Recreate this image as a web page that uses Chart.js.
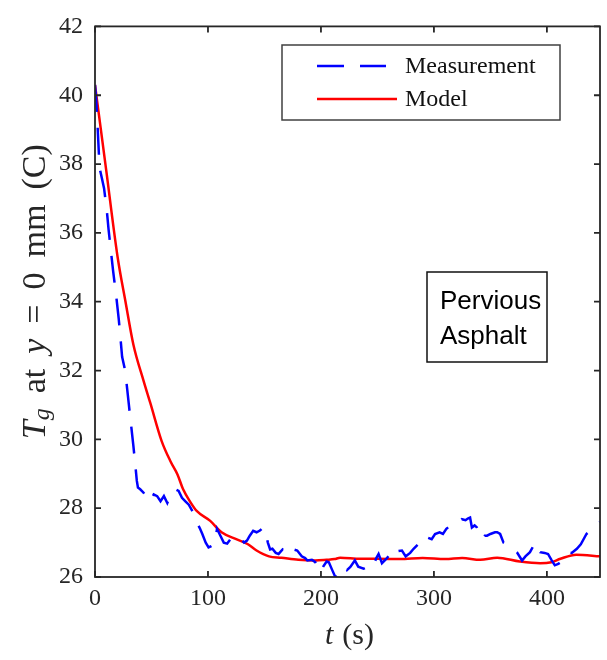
<!DOCTYPE html>
<html>
<head>
<meta charset="utf-8">
<script src="https://cdn.jsdelivr.net/npm/chart.js@4.4.1/dist/chart.umd.min.js"></script>
<style>
  html, body { margin: 0; padding: 0; background: #ffffff; }
  #wrap { width: 607px; height: 660px; position: relative; }
</style>
</head>
<body>
<div id="wrap"><canvas id="c" width="607" height="660"></canvas></div>
<script>
// ---------- data ----------
const seriesNames = ["Measurement", "Model"];
const xTicks = [0, 100, 200, 300, 400];
const yTicks = [26, 28, 30, 32, 34, 36, 38, 40, 42];

const tMeas = [0, 1, 2, 3, 4, 6, 8, 10.6, 12, 14, 16, 19, 21, 22.4, 24, 26, 27.7, 30, 32, 34, 35.7, 37, 38, 40, 43, 46, 49, 52, 55, 58, 61, 64, 67, 71, 74, 77, 80, 83, 87, 90, 93, 95, 98, 100.5, 103, 106, 108, 111, 114, 117, 120, 124, 129, 132, 134.5, 137, 140, 143, 146, 149, 151, 153, 155, 157, 160, 162.5, 166, 169, 173, 176, 179, 183, 186, 188, 192, 195, 197, 199.5, 202, 205, 207, 210, 212.7, 215, 218.6, 221, 223, 226, 230, 233, 237.7, 241, 244, 246.5, 249, 251, 254, 258, 262, 265, 268, 271.7, 275, 279, 282, 286, 289, 294, 298, 301, 305, 308, 311, 314.4, 318, 321, 324.8, 328, 330, 332, 333.6, 336, 338, 340, 342.5, 345, 347, 350, 354, 356, 358.6, 361.6, 365, 369, 373.5, 378, 381, 385, 388, 390, 392, 394, 398, 401, 404, 407, 410, 413, 416, 419, 422, 426.5, 430, 435, 440, 445.7, 447];
const TMeas = [40.3, 39.9, 39.3, 38.6, 37.9, 37.6, 37.3, 36.6, 36.1, 35.5, 34.9, 34.1, 33.5, 33.0, 32.4, 32.1, 31.7, 31.0, 30.4, 29.8, 29.25, 28.8, 28.6, 28.55, 28.45, 28.3, 28.2, 28.4, 28.35, 28.2, 28.35, 28.15, 28.4, 28.55, 28.5, 28.3, 28.2, 28.1, 27.87, 27.6, 27.4, 27.25, 27.0, 26.86, 26.9, 26.95, 27.4, 27.2, 27.0, 26.97, 27.1, 27.0, 27.11, 27.0, 27.06, 27.2, 27.34, 27.3, 27.35, 27.44, 27.3, 27.0, 26.8, 26.82, 26.7, 26.67, 26.8, 26.7, 26.86, 26.8, 26.77, 26.6, 26.55, 26.48, 26.5, 26.43, 26.3, 26.14, 26.3, 26.45, 26.43, 26.2, 26.0, 26.05, 26.19, 26.3, 26.2, 26.29, 26.48, 26.3, 26.24, 26.3, 26.4, 26.34, 26.55, 26.67, 26.4, 26.53, 26.7, 26.6, 26.75, 26.77, 26.6, 26.7, 26.82, 26.95, 26.9, 27.15, 27.1, 27.25, 27.3, 27.25, 27.4, 27.49, 27.5, 27.55, 27.68, 27.65, 27.7, 27.73, 27.44, 27.5, 27.44, 27.25, 27.1, 27.2, 27.2, 27.25, 27.3, 27.3, 27.25, 27.0, 26.95, 26.86, 26.72, 26.48, 26.6, 26.72, 26.9, 27.0, 26.85, 26.72, 26.7, 26.67, 26.5, 26.34, 26.38, 26.45, 26.6, 26.72, 26.7, 26.82, 26.95, 27.25, 27.4, 27.55, 27.6];

const tModel = [0, 10, 20, 27, 34, 43, 49, 59, 67, 73, 78, 84, 90, 102, 112, 125, 135, 143, 154, 165, 180, 195, 205, 212, 217, 235, 250, 270, 290, 310, 325, 341, 356, 376, 394, 404, 412, 426, 447];
const TModel = [40.3, 37.8, 35.3, 34.0, 32.75, 31.7, 31.05, 29.95, 29.35, 28.98, 28.55, 28.2, 27.92, 27.63, 27.3, 27.1, 26.96, 26.77, 26.6, 26.56, 26.5, 26.48, 26.5, 26.52, 26.56, 26.53, 26.53, 26.52, 26.55, 26.52, 26.55, 26.5, 26.56, 26.45, 26.4, 26.43, 26.53, 26.65, 26.6];

const annotationLines = ["Pervious", "Asphalt"];

// ---------- chart ----------
const AXIS = "#262626";
const SERIF = "'Liberation Serif', 'DejaVu Serif', serif";
const SANS = "'Liberation Sans', Arial, sans-serif";

const measPts = tMeas.map((t, i) => ({ x: t, y: TMeas[i] }));
const modelPts = tModel.map((t, i) => ({ x: t, y: TModel[i] }));

const decor = {
  id: "decor",
  afterDraw(chart) {
    const ctx = chart.ctx;
    const a = chart.chartArea;
    const xs = chart.scales.x, ys = chart.scales.y;
    ctx.save();
    // box
    ctx.strokeStyle = AXIS;
    ctx.lineWidth = 1.8;
    ctx.strokeRect(a.left, a.top, a.right - a.left, a.bottom - a.top);
    // inward ticks on all sides
    const TL = 6;
    ctx.beginPath();
    xs.ticks.forEach(t => {
      const px = xs.getPixelForValue(t.value);
      ctx.moveTo(px, a.bottom); ctx.lineTo(px, a.bottom - TL);
      ctx.moveTo(px, a.top); ctx.lineTo(px, a.top + TL);
    });
    ys.ticks.forEach(t => {
      const py = ys.getPixelForValue(t.value);
      ctx.moveTo(a.left, py); ctx.lineTo(a.left + TL, py);
      ctx.moveTo(a.right, py); ctx.lineTo(a.right - TL, py);
    });
    ctx.stroke();

    // legend
    const lx = 282, ly = 45, lw = 278, lh = 75;
    ctx.fillStyle = "#ffffff";
    ctx.fillRect(lx, ly, lw, lh);
    ctx.strokeStyle = "#404040";
    ctx.lineWidth = 1.5;
    ctx.strokeRect(lx, ly, lw, lh);
    const ds = chart.data.datasets;
    const rows = [66, 99];
    ds.forEach((d, i) => {
      ctx.strokeStyle = d.borderColor;
      ctx.lineWidth = d.borderWidth;
      ctx.setLineDash(d.borderDash || []);
      ctx.beginPath();
      ctx.moveTo(317, rows[i]);
      ctx.lineTo(i === 0 ? 386 : 397, rows[i]);
      ctx.stroke();
      ctx.setLineDash([]);
      ctx.fillStyle = "#111111";
      ctx.font = "24px " + SERIF;
      ctx.textBaseline = "middle";
      ctx.textAlign = "left";
      ctx.fillText(d.label, 405, rows[i] + 1);
    });

    // annotation box
    ctx.fillStyle = "#ffffff";
    ctx.fillRect(427, 272, 120, 90);
    ctx.strokeStyle = "#111111";
    ctx.lineWidth = 1.5;
    ctx.strokeRect(427, 272, 120, 90);
    ctx.fillStyle = "#000000";
    ctx.font = "26px " + SANS;
    ctx.textBaseline = "middle";
    ctx.fillText(annotationLines[0], 440, 302);
    ctx.fillText(annotationLines[1], 440, 337);

    // x title: t (s)
    const cx = (a.left + a.right) / 2;
    drawRich(ctx, [["t", "italic 30px " + SERIF, 0], 9, ["(s)", "30px " + SERIF, 0]], cx + 2, 636);

    // y title
    ctx.save();
    ctx.translate(36, (a.top + a.bottom) / 2 - 10);
    ctx.rotate(-Math.PI / 2);
    const F = "34px " + SERIF, FI = "italic 34px " + SERIF, G = 15;
    drawRich(ctx, [
      ["T", FI, 0],
      ["g", "italic 24px " + SERIF, 7],
      G, ["at", F, 0],
      G, ["y", FI, 0],
      G, ["=", F, 0],
      G, ["0", F, 0],
      G, ["mm", F, 0],
      G, ["(C)", F, 0]
    ], 0, 0);
    ctx.restore();
    ctx.restore();
  }
};

function drawRich(ctx, parts, cx, cy) {
  let total = 0;
  parts.forEach(p => {
    if (typeof p === "number") { total += p; return; }
    ctx.font = p[1]; total += ctx.measureText(p[0]).width;
  });
  let x = cx - total / 2;
  ctx.fillStyle = "#262626";
  ctx.textBaseline = "middle";
  ctx.textAlign = "left";
  parts.forEach(p => {
    if (typeof p === "number") { x += p; return; }
    ctx.font = p[1];
    ctx.fillText(p[0], x, cy + p[2]);
    x += ctx.measureText(p[0]).width;
  });
}

new Chart(document.getElementById("c"), {
  type: "line",
  data: {
    datasets: [
      { label: seriesNames[0], data: measPts, borderColor: "#0000ff", borderWidth: 2.5, borderDash: [27, 16], pointRadius: 0, tension: 0, fill: false },
      { label: seriesNames[1], data: modelPts, borderColor: "#ff0000", borderWidth: 2.5, pointRadius: 0, cubicInterpolationMode: "monotone", fill: false }
    ]
  },
  options: {
    responsive: false,
    animation: false,
    events: [],
    layout: { padding: { left: 0, top: 21, right: 7, bottom: 0 } },
    plugins: { legend: { display: false }, tooltip: { enabled: false } },
    scales: {
      x: {
        type: "linear", min: 0, max: 447,
        afterBuildTicks: s => { s.ticks = xTicks.map(v => ({ value: v })); },
        afterFit: s => { s.height = 83; },
        grid: { display: false, drawTicks: false },
        border: { display: false },
        ticks: { color: AXIS, padding: 7, font: { family: SERIF, size: 24 }, maxRotation: 0 }
      },
      y: {
        type: "linear", min: 26, max: 42,
        afterBuildTicks: s => { s.ticks = yTicks.map(v => ({ value: v })); },
        afterFit: s => { s.width = 95; },
        grid: { display: false, drawTicks: false },
        border: { display: false },
        ticks: { color: AXIS, padding: 12, font: { family: SERIF, size: 24 } }
      }
    }
  },
  plugins: [decor]
});
</script>
</body>
</html>
